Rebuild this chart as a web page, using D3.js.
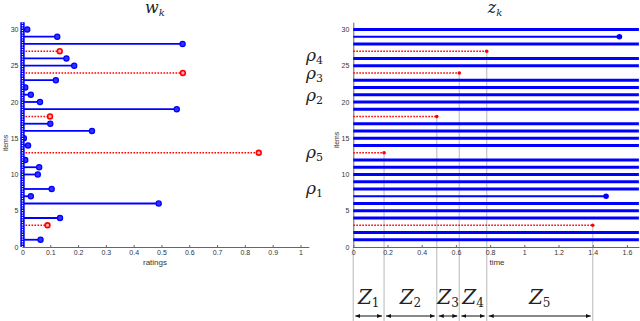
<!DOCTYPE html>
<html>
<head>
<meta charset="utf-8">
<script src="https://cdn.jsdelivr.net/npm/d3@7"></script>
<style>
  body { margin: 0; background: #fff; }
  svg { display: block; }
  .tick text { font-family: "Liberation Sans", Arial, sans-serif; font-size: 7px; fill: #333; }
  .domain, .tick line { stroke: #666; }
</style>
</head>
<body>
<svg id="chart" width="640" height="321"></svg>
<script>
// left panel: w_k ratings per item (blue = observed, red = the rho items)
const blueItems = [1, 4, 6, 7, 8, 10, 11, 12, 14, 15, 16, 17, 19, 20, 21, 22, 23, 25, 26, 28, 29, 30];
const blueRatings = [0.065, 0.135, 0.49, 0.03, 0.105, 0.055, 0.06, 0.01, 0.02, 0.005, 0.25, 0.1, 0.555, 0.063, 0.03, 0.01, 0.12, 0.186, 0.158, 0.576, 0.125, 0.017];
const redItems = [3, 13, 18, 24, 27];
const redRatings = [0.09, 0.85, 0.099, 0.577, 0.134];

// right panel: z_k times
const lineItems = [1, 2, 4, 5, 6, 7, 8, 9, 10, 11, 12, 14, 15, 16, 17, 19, 20, 21, 22, 23, 25, 26, 28, 29, 30];
const lineTimes = [1.67, 1.67, 1.67, 1.67, 1.67, 1.478, 1.67, 1.67, 1.67, 1.67, 1.67, 1.67, 1.67, 1.67, 1.67, 1.67, 1.67, 1.67, 1.67, 1.67, 1.67, 1.67, 1.67, 1.556, 1.67];
const lineEnded = [false, false, false, false, false, true, false, false, false, false, false, false, false, false, false, false, false, false, false, false, false, false, false, true, false];
const redTimes = [1.4, 0.18, 0.488, 0.62, 0.78];

const rhoLabels = ["4", "3", "2", "5", "1"];
const rhoItems = [25.8, 23.3, 20.3, 12.4, 7.4];

const leftTicksX = d3.range(0, 1.01, 0.1);
const rightTicksX = [0, 0.2, 0.4, 0.6, 0.8, 1, 1.2, 1.4, 1.6];
const ticksY = [0, 5, 10, 15, 20, 25, 30];

const svg = d3.select("#chart");
const blue = "#0000ff", red = "#ff0000";
const mathFont = "'DejaVu Serif', 'Liberation Serif', serif";
const dots = "1.6 1.4";

const y = d3.scaleLinear().domain([0, 31]).range([247, 22.2]);
const xL = d3.scaleLinear().domain([0, 1.03]).range([22.5, 308.8]);
const xR = d3.scaleLinear().domain([0, 1.67]).range([353.3, 638.9]);

function fmt(d) { return d === 0 ? "0" : d3.format("~g")(+d.toFixed(2)); }

// ---------- left panel ----------
const gL = svg.append("g");
gL.append("g").attr("transform", `translate(0,${y(0)})`)
  .call(d3.axisBottom(xL).tickValues(leftTicksX).tickFormat(fmt).tickSizeInner(-2).tickSizeOuter(0).tickPadding(3));
gL.append("g").attr("transform", `translate(${xL(0)},0)`)
  .call(d3.axisLeft(y).tickValues(ticksY).tickSizeInner(-2).tickSizeOuter(0).tickPadding(4));

// red stems
redItems.forEach((it, i) => {
  gL.append("line").attr("x1", xL(0)).attr("x2", xL(redRatings[i]))
    .attr("y1", y(it)).attr("y2", y(it))
    .attr("stroke", red).attr("stroke-width", 1.6).attr("stroke-dasharray", dots);
  gL.append("circle").attr("cx", xL(redRatings[i])).attr("cy", y(it)).attr("r", 2.4)
    .attr("fill", "#ffb0b0").attr("stroke", red).attr("stroke-width", 1.6);
});
// blue stems
blueItems.forEach((it, i) => {
  gL.append("line").attr("x1", xL(0)).attr("x2", xL(blueRatings[i]))
    .attr("y1", y(it)).attr("y2", y(it))
    .attr("stroke", blue).attr("stroke-width", 1.8);
  gL.append("circle").attr("cx", xL(blueRatings[i])).attr("cy", y(it)).attr("r", 2.6)
    .attr("fill", "#3030ff").attr("stroke", blue).attr("stroke-width", 1.2);
});
// zero-baseline markers along x = 0
gL.append("line").attr("x1", xL(0)).attr("x2", xL(0)).attr("y1", y(0)).attr("y2", y(31))
  .attr("stroke", blue).attr("stroke-width", 4.4);
gL.append("line").attr("x1", xL(0)).attr("x2", xL(0)).attr("y1", y(0)).attr("y2", y(31))
  .attr("stroke", "#fff").attr("stroke-width", 1.2).attr("stroke-dasharray", "1.1 1.3");

gL.append("text").attr("x", 155).attr("y", 265).attr("text-anchor", "middle")
  .attr("font-family", "Liberation Sans, Arial, sans-serif").attr("font-size", 8).attr("fill", "#333").text("ratings");
gL.append("text").attr("transform", "translate(8,143) rotate(-90)").attr("text-anchor", "middle")
  .attr("font-family", "Liberation Sans, Arial, sans-serif").attr("font-size", 7).attr("fill", "#333").text("items");

// title w_k
const tL = gL.append("text").attr("x", 155).attr("y", 13).attr("text-anchor", "middle")
  .attr("font-family", mathFont).attr("font-style", "italic").attr("font-size", 16).attr("fill", "#222");
tL.append("tspan").text("w");
tL.append("tspan").attr("dy", 3).attr("font-size", 10).text("k");

// rho labels
rhoLabels.forEach((s, i) => {
  const t = svg.append("text").attr("x", 306).attr("y", y(rhoItems[i]) + 1)
    .attr("font-family", mathFont).attr("font-style", "italic").attr("font-size", 17).attr("fill", "#222");
  t.append("tspan").text("ρ");
  t.append("tspan").attr("dy", 3).attr("font-size", 11).attr("font-style", "normal").text(s);
});

// ---------- right panel ----------
const gR = svg.append("g");
const events = redTimes.slice().sort((a, b) => a - b);
const bounds = [0].concat(events);

// gray vertical guides from event down to bottom
gR.append("line").attr("x1", xR(0)).attr("x2", xR(0)).attr("y1", y(0)).attr("y2", 321)
  .attr("stroke", "#ccc").attr("stroke-width", 1.4);
redItems.forEach((it, i) => {
  gR.append("line").attr("x1", xR(redTimes[i])).attr("x2", xR(redTimes[i]))
    .attr("y1", y(it)).attr("y2", 321)
    .attr("stroke", "#ccc").attr("stroke-width", 1.4);
});

gR.append("g").attr("transform", `translate(0,${y(0)})`)
  .call(d3.axisBottom(xR).tickValues(rightTicksX).tickFormat(fmt).tickSizeInner(-2).tickSizeOuter(0).tickPadding(3));
gR.append("g").attr("transform", `translate(${xR(0)},0)`)
  .call(d3.axisLeft(y).tickValues(ticksY).tickSizeInner(-2).tickSizeOuter(0).tickPadding(4));

lineItems.forEach((it, i) => {
  gR.append("line").attr("x1", xR(0)).attr("x2", xR(lineTimes[i]))
    .attr("y1", y(it)).attr("y2", y(it))
    .attr("stroke", blue).attr("stroke-width", lineEnded[i] ? 2 : 3);
  if (lineEnded[i]) {
    gR.append("circle").attr("cx", xR(lineTimes[i])).attr("cy", y(it)).attr("r", 2.8).attr("fill", blue);
  }
});
redItems.forEach((it, i) => {
  gR.append("line").attr("x1", xR(0)).attr("x2", xR(redTimes[i]))
    .attr("y1", y(it)).attr("y2", y(it))
    .attr("stroke", red).attr("stroke-width", 1.6).attr("stroke-dasharray", dots);
  gR.append("circle").attr("cx", xR(redTimes[i])).attr("cy", y(it)).attr("r", 1.8).attr("fill", red);
});

gR.append("text").attr("x", 497).attr("y", 265).attr("text-anchor", "middle")
  .attr("font-family", "Liberation Sans, Arial, sans-serif").attr("font-size", 8).attr("fill", "#333").text("time");
gR.append("text").attr("transform", "translate(339,140) rotate(-90)").attr("text-anchor", "middle")
  .attr("font-family", "Liberation Sans, Arial, sans-serif").attr("font-size", 7).attr("fill", "#333").text("items");

const tR = gR.append("text").attr("x", 495).attr("y", 13).attr("text-anchor", "middle")
  .attr("font-family", mathFont).attr("font-style", "italic").attr("font-size", 16).attr("fill", "#222");
tR.append("tspan").text("z");
tR.append("tspan").attr("dy", 3).attr("font-size", 10).text("k");

// Z intervals with double arrows
const defs = svg.append("defs");
["s", "e"].forEach(k => {
  defs.append("marker").attr("id", "arr" + k).attr("viewBox", "0 0 10 10")
    .attr("refX", 10).attr("refY", 5).attr("markerWidth", 5).attr("markerHeight", 5)
    .attr("orient", k === "e" ? "auto" : "auto-start-reverse")
    .append("path").attr("d", "M0,1 L10,5 L0,9 Z").attr("fill", "#111");
});
d3.range(events.length).forEach(i => {
  const a = xR(bounds[i]), b = xR(bounds[i + 1]);
  gR.append("line").attr("x1", a + 2).attr("x2", b - 2).attr("y1", 316).attr("y2", 316)
    .attr("stroke", "#111").attr("stroke-width", 1)
    .attr("marker-start", "url(#arrs)").attr("marker-end", "url(#arre)");
  const t = gR.append("text").attr("x", (a + b) / 2).attr("y", 304).attr("text-anchor", "middle")
    .attr("font-family", mathFont).attr("font-style", "italic").attr("font-size", 20).attr("fill", "#222");
  t.append("tspan").text("Z");
  t.append("tspan").attr("dy", 3).attr("font-size", 12).attr("font-style", "normal").text(i + 1);
});
</script>
</body>
</html>
